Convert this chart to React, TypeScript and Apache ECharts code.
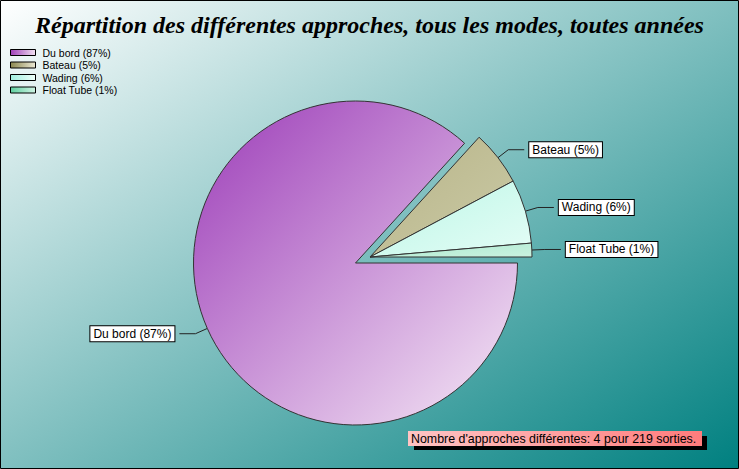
import React, { useEffect, useRef } from "react";
import * as echarts from "echarts";

const categories = ["Du bord", "Bateau", "Wading", "Float Tube"];
const values = [190, 12, 14, 3];
const totalTrips = 219;
const titleText = "Répartition des différentes approches, tous les modes, toutes années";
const noteText = `Nombre d'approches différentes: ${categories.length} pour ${totalTrips} sorties.`;

// [dark, light] colour pairs per category
const sliceColors: [string, string][] = [
  ["#9c3cb8", "#f6eaf6"],
  ["#b8b488", "#cacaa6"],
  ["#bcf6e6", "#e4fdf6"],
  ["#acead0", "#caf2e0"],
];
const legendColors: [string, string][] = [
  ["#a040b8", "#f2e2f2"],
  ["#8c8850", "#ecead6"],
  ["#a0f0e0", "#f0fffa"],
  ["#60d0a0", "#d0f4e4"],
];

const total = values.reduce((a, b) => a + b, 0);
const pct = (v: number) => Math.round((v / total) * 100);
const labelOf = (i: number) => `${categories[i]} (${pct(values[i])}%)`;

const grad = (c: [string, string], x2: number, y2: number) =>
  new echarts.graphic.LinearGradient(0, 0, x2, y2, [
    { offset: 0, color: c[0] },
    { offset: 1, color: c[1] },
  ]);

export default function App() {
  const ref = useRef<HTMLDivElement>(null);
  useEffect(() => {
    document.body.style.margin = "0";
    if (!ref.current) return;
    const chart = echarts.init(ref.current, null, { renderer: "svg" });

    const transparent = { color: "rgba(0,0,0,0)", borderWidth: 0 };
    const labelStyle = {
      show: true,
      formatter: (p: any) => labelOf(p.dataIndex),
      color: "#000",
      fontSize: 12,
      fontFamily: "Liberation Sans",
      backgroundColor: "#fff",
      borderColor: "#000",
      borderWidth: 1,
      padding: [2, 3, 1, 3],
    };
    const mkData = (showIdx: (i: number) => boolean) =>
      categories.map((name, i) => ({
        name,
        value: values[i],
        itemStyle: showIdx(i)
          ? { color: grad(sliceColors[i], 1, 1), borderColor: "#333", borderWidth: 1 }
          : transparent,
        label: showIdx(i) ? labelStyle : { show: false },
        labelLine: showIdx(i)
          ? { show: true, length: 13, length2: 16, lineStyle: { color: "#222", width: 1 } }
          : { show: false },
      }));

    const pieCommon = {
      type: "pie",
      radius: 162,
      startAngle: 0,
      clockwise: true,
      avoidLabelOverlap: false,
      silent: true,
      emphasis: { disabled: true },
      labelLayout: { hideOverlap: false },
    };

    chart.setOption({
      animation: false,
      title: {
        text: titleText,
        left: "center",
        top: 8,
        textStyle: {
          fontFamily: "Liberation Serif",
          fontStyle: "italic",
          fontWeight: "bold",
          fontSize: 24,
          color: "#000",
          textShadowColor: "rgba(0,0,0,0.35)",
          textShadowOffsetX: 1,
          textShadowOffsetY: 1,
        },
      },
      legend: {
        orient: "vertical",
        left: 10,
        top: 47,
        padding: 0,
        itemWidth: 25,
        itemHeight: 6,
        itemGap: 1.5,
        icon: "rect",
        selectedMode: false,
        textStyle: { fontSize: 10.5, fontFamily: "Liberation Sans", color: "#000", padding: [0, 0, 0, 2] },
        formatter: (name: string) => labelOf(categories.indexOf(name)),
        data: categories.map((name, i) => ({
          name,
          itemStyle: { color: grad(legendColors[i], 1, 0), borderColor: "#000", borderWidth: 1 },
        })),
      },
      graphic: [
        {
          type: "rect",
          z: -100,
          silent: true,
          shape: { x: 0.5, y: 0.5, width: 738, height: 468 },
          style: {
            fill: new echarts.graphic.LinearGradient(0, 0, 1, 1, [
              { offset: 0, color: "#ffffff" },
              { offset: 1, color: "#008080" },
            ]),
            stroke: "#000",
            lineWidth: 1,
          },
        },
        {
          type: "rect",
          silent: true,
          shape: { x: 414, y: 436, width: 293, height: 14 },
          style: { fill: "#000" },
        },
        {
          type: "rect",
          silent: true,
          shape: { x: 408, y: 431, width: 294, height: 15 },
          style: {
            fill: new echarts.graphic.LinearGradient(0, 0, 1, 0, [
              { offset: 0, color: "#ffc4c4" },
              { offset: 1, color: "#ff7c7c" },
            ]),
          },
        },
        {
          type: "text",
          silent: true,
          x: 411,
          y: 438.5,
          style: {
            text: noteText,
            fill: "#000",
            fontSize: 12.4,
            fontFamily: "Liberation Sans",
            verticalAlign: "middle",
          },
        },
      ],
      series: [
        { ...pieCommon, center: [355.5, 263], data: mkData((i) => i === 0) },
        { ...pieCommon, center: [370, 257], data: mkData((i) => i !== 0) },
      ],
    });
    return () => chart.dispose();
  }, []);
  return <div ref={ref} style={{ width: 739, height: 469 }} />;
}
